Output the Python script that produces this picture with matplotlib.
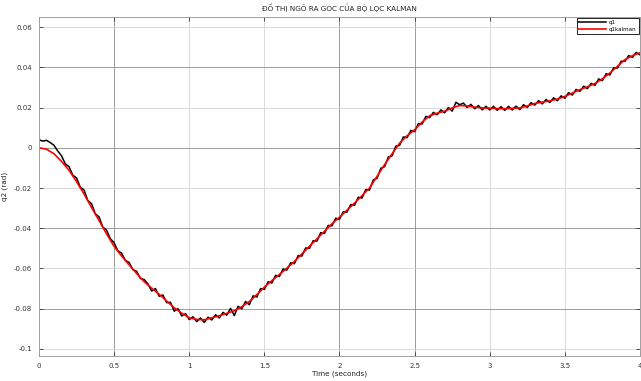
import numpy as np
import matplotlib
matplotlib.use("Agg")
import matplotlib.pyplot as plt

plt.rcParams["font.family"] = ["DejaVu Sans"]

# q1kalman: smooth output, sampled every 0.05 s
T_KAL = np.round(np.arange(0, 4.0001, 0.05), 3)
Q_KAL = [
    0.0000, -0.0007, -0.0030, -0.0068, -0.0112, -0.0168, -0.0230, -0.0297, -0.0362, -0.0428,
    -0.0490, -0.0538, -0.0582, -0.0625, -0.0665, -0.0698, -0.0728, -0.0762, -0.0795, -0.0822,
    -0.0845, -0.0853, -0.0855, -0.0845, -0.0835, -0.0823, -0.0810, -0.0790, -0.0764, -0.0730,
    -0.0693, -0.0660, -0.0630, -0.0598, -0.0565, -0.0528, -0.0490, -0.0453, -0.0415, -0.0378,
    -0.0345, -0.0310, -0.0275, -0.0238, -0.0200, -0.0142, -0.0084, -0.0030, 0.0023, 0.0060,
    0.0089, 0.0128, 0.0159, 0.0172, 0.0182, 0.0198, 0.0210, 0.0208, 0.0202, 0.0198,
    0.0197, 0.0195, 0.0194, 0.0196, 0.0198, 0.0208, 0.0220, 0.0227, 0.0233, 0.0242,
    0.0255, 0.0272, 0.0289, 0.0303, 0.0319, 0.0343, 0.0372, 0.0405, 0.0438, 0.0458,
    0.0472,
]

# q1: measured (noisy) signal, sampled every 0.025 s
T_MEAS = np.round(np.arange(0, 4.0001, 0.025), 3)
Q_MEAS = [
    0.0040, 0.0033, 0.0037, 0.0026, 0.0012, -0.0016, -0.0040, -0.0080, -0.0094, -0.0136,
    -0.0150, -0.0196, -0.0210, -0.0262, -0.0278, -0.0328, -0.0344, -0.0394, -0.0410, -0.0452,
    -0.0472, -0.0512, -0.0524, -0.0560, -0.0570, -0.0606, -0.0614, -0.0650, -0.0655, -0.0676,
    -0.0712, -0.0700, -0.0738, -0.0732, -0.0770, -0.0768, -0.0812, -0.0800, -0.0836, -0.0824,
    -0.0854, -0.0840, -0.0864, -0.0846, -0.0868, -0.0842, -0.0856, -0.0830, -0.0846, -0.0818,
    -0.0832, -0.0798, -0.0834, -0.0788, -0.0800, -0.0764, -0.0780, -0.0736, -0.0742, -0.0700,
    -0.0704, -0.0666, -0.0672, -0.0634, -0.0640, -0.0602, -0.0608, -0.0572, -0.0576, -0.0536,
    -0.0538, -0.0498, -0.0500, -0.0462, -0.0464, -0.0422, -0.0426, -0.0386, -0.0388, -0.0350,
    -0.0356, -0.0318, -0.0320, -0.0282, -0.0286, -0.0246, -0.0250, -0.0208, -0.0210, -0.0160,
    -0.0152, -0.0102, -0.0094, -0.0046, -0.0040, 0.0008, 0.0012, 0.0054, 0.0050, 0.0086,
    0.0080, 0.0120, 0.0118, 0.0156, 0.0150, 0.0176, 0.0164, 0.0188, 0.0174, 0.0200,
    0.0182, 0.0226, 0.0214, 0.0222, 0.0200, 0.0216, 0.0194, 0.0210, 0.0188, 0.0206,
    0.0188, 0.0206, 0.0186, 0.0204, 0.0186, 0.0206, 0.0188, 0.0207, 0.0190, 0.0214,
    0.0200, 0.0224, 0.0212, 0.0234, 0.0218, 0.0240, 0.0225, 0.0248, 0.0234, 0.0258,
    0.0246, 0.0274, 0.0262, 0.0290, 0.0280, 0.0306, 0.0294, 0.0320, 0.0310, 0.0342,
    0.0334, 0.0368, 0.0362, 0.0398, 0.0396, 0.0430, 0.0430, 0.0458, 0.0450, 0.0474,
    0.0462,
]

X_TICKS = [0, 0.5, 1, 1.5, 2, 2.5, 3, 3.5, 4]
X_LABELS = ["0", "0.5", "1", "1.5", "2", "2.5", "3", "3.5", "4"]
Y_TICKS = [-0.1, -0.08, -0.06, -0.04, -0.02, 0, 0.02, 0.04, 0.06]
Y_LABELS = ["-0.1", "-0.08", "-0.06", "-0.04", "-0.02", "0", "0.02", "0.04", "0.06"]

fig = plt.figure(figsize=(6.41, 3.81), dpi=100)
ax = fig.add_axes([0.0608, 0.0656, 0.9376, 0.8898])

ax.plot(T_MEAS, Q_MEAS, color="black", lw=1.1, label="q1")
ax.plot(T_KAL, Q_KAL, color="#ff0000", lw=1.2, label="q1kalman")

ax.set_xlim(0, 4)
ax.set_ylim(-0.1035, 0.065)
ax.set_xticks(X_TICKS)
ax.set_xticklabels(X_LABELS)
ax.set_yticks(Y_TICKS)
ax.set_yticklabels(Y_LABELS)
ax.tick_params(direction="in", length=3, width=0.6, labelsize=5, colors="#333333",
               top=True, right=True, pad=5)

ax.grid(True, color="#c8c8c8", lw=0.6)
ax.set_axisbelow(True)
# dark / light gridlines as they come out in the picture
dark_y = [-0.08, -0.04, 0, 0.04]
dark_x = [0.5, 2, 2.5]
for line, v in zip(ax.get_ygridlines(), Y_TICKS):
    line.set_color("#8c8c8c" if v in dark_y else "#d4d4d4")
for line, v in zip(ax.get_xgridlines(), X_TICKS):
    line.set_color("#8c8c8c" if v in dark_x else "#d4d4d4")

for s in ax.spines.values():
    s.set_color("#a0a0a0")
    s.set_linewidth(0.7)

ax.set_title("ĐỒ THỊ NGÕ RA GÓC CỦA BỘ LỌC KALMAN", fontsize=5.2, color="#222222", pad=4)
ax.set_xlabel("Time (seconds)", fontsize=5.2, color="#222222", labelpad=1)
ax.set_ylabel("q2 (rad)", fontsize=5.2, color="#222222", labelpad=4)

leg = ax.legend(loc="upper right", fontsize=4, frameon=True, fancybox=False,
                framealpha=1, edgecolor="black", handlelength=5, borderpad=0.35,
                labelspacing=0.25, handletextpad=0.5, borderaxespad=0.25)
leg.get_frame().set_linewidth(0.6)

fig.savefig("out.png", dpi=100)
